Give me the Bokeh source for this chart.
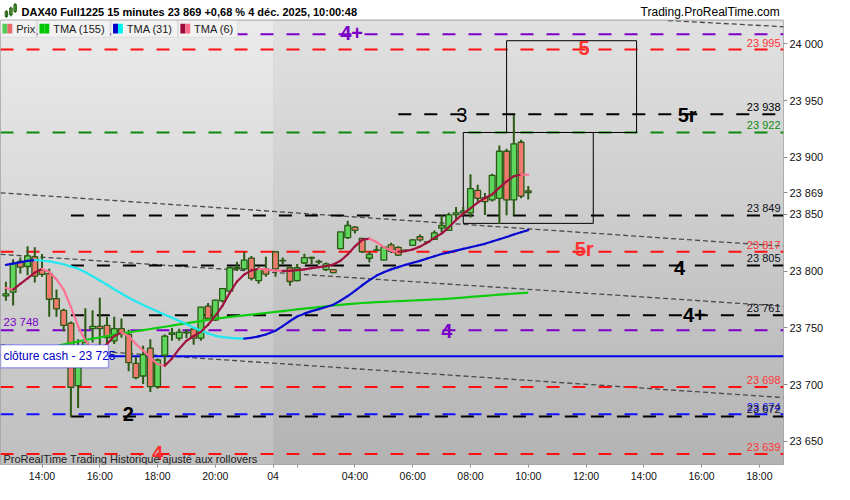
import numpy as np
from bokeh.plotting import figure
from bokeh.layouts import column
from bokeh.models import Range1d, FixedTicker, Label, BoxAnnotation, ColumnDataSource
from bokeh.core.properties import value
from bokeh.embed import file_html
from bokeh.resources import INLINE

FONT = "Liberation Sans"

# ---------------- data: 15-minute bars ----------------
bar_time = ([f"12-03 {12 + (45 + 15 * i) // 60:02d}:{(45 + 15 * i) % 60:02d}" for i in range(37)]
            + [f"12-04 {1 + (15 + 15 * k) // 60:02d}:{(15 + 15 * k) % 60:02d}" for k in range(36)])

bar_open = [23778.1, 23781.4, 23808.5, 23804.0, 23812.5, 23801.0, 23797.8, 23775.8, 23765.4, 23754.1,
            23699.1, 23731.5, 23749.3, 23751.3, 23752.1, 23738.6, 23749.3, 23744.2, 23718.8, 23707.6,
            23732.1, 23698.3, 23725.9, 23744.2, 23740.9, 23745.6, 23749.0, 23740.9, 23769.1, 23756.9,
            23773.8, 23782.3, 23802.9, 23801.8, 23811.4, 23791.6, 23802.0,
            23817.0, 23809.5, 23802.9, 23791.6, 23807.1, 23811.4, 23808.0, 23801.2, 23801.2, 23819.8,
            23829.4, 23838.7, 23828.8, 23811.3, 23818.3, 23809.6, 23823.1, 23820.9, 23818.3, 23822.6,
            23830.2, 23825.4, 23828.0, 23837.8, 23835.8, 23849.7, 23851.3, 23851.3, 23871.1, 23864.6,
            23862.6, 23864.0, 23905.5, 23862.6, 23913.4, 23870.5]
bar_high = [23790.7, 23810.5, 23811.9, 23821.8, 23821.0, 23815.0, 23802.0, 23783.7, 23766.8, 23755.5,
            23740.0, 23767.3, 23765.4, 23776.6, 23759.7, 23759.7, 23758.3, 23748.4, 23724.5, 23734.3,
            23740.0, 23723.1, 23744.2, 23749.9, 23749.3, 23748.5, 23749.0, 23768.2, 23771.9, 23774.7,
            23785.1, 23804.0, 23808.3, 23816.7, 23813.3, 23804.0, 23812.5,
            23817.5, 23812.0, 23804.0, 23806.3, 23815.3, 23812.5, 23810.0, 23807.5, 23801.5, 23834.5,
            23844.4, 23839.6, 23828.8, 23817.0, 23822.6, 23821.8, 23825.0, 23821.8, 23819.0, 23828.0,
            23832.2, 23826.5, 23835.8, 23849.1, 23851.3, 23856.4, 23856.4, 23885.2, 23875.9, 23868.8,
            23885.7, 23910.6, 23907.7, 23937.4, 23915.6, 23875.0]
bar_low = [23773.8, 23769.6, 23797.8, 23796.4, 23790.0, 23795.0, 23759.7, 23759.7, 23747.0, 23671.5,
           23679.4, 23727.0, 23737.2, 23731.5, 23731.5, 23735.8, 23741.4, 23711.8, 23704.7, 23700.5,
           23693.5, 23696.3, 23717.4, 23738.6, 23738.6, 23740.9, 23735.2, 23738.6, 23756.9, 23756.0,
           23772.4, 23780.9, 23800.0, 23801.2, 23791.6, 23788.8, 23795.0,
           23795.0, 23805.7, 23787.1, 23791.0, 23806.3, 23806.3, 23806.0, 23800.0, 23798.0, 23819.0,
           23828.3, 23833.1, 23816.0, 23807.6, 23818.0, 23809.6, 23816.0, 23813.3, 23817.5, 23822.0,
           23826.0, 23825.0, 23828.0, 23833.9, 23835.3, 23845.7, 23849.0, 23847.1, 23861.2, 23849.4,
           23861.2, 23841.5, 23849.1, 23849.1, 23864.0, 23863.0]
bar_close = [23780.0, 23806.8, 23803.4, 23813.3, 23795.5, 23797.0, 23775.2, 23766.8, 23752.1, 23697.7,
             23724.5, 23737.2, 23751.3, 23749.3, 23741.4, 23749.3, 23744.2, 23719.4, 23706.1, 23726.4,
             23698.3, 23721.7, 23742.8, 23745.6, 23746.2, 23746.2, 23740.9, 23768.2, 23758.3, 23774.4,
             23784.6, 23802.9, 23802.0, 23809.7, 23793.6, 23802.0, 23797.3,
             23802.0, 23809.0, 23790.8, 23802.9, 23811.9, 23812.0, 23808.5, 23806.3, 23798.7, 23834.5,
             23840.1, 23835.9, 23817.0, 23814.7, 23818.6, 23821.0, 23817.5, 23814.1, 23818.5, 23827.4,
             23827.4, 23825.6, 23833.6, 23840.1, 23849.4, 23851.3, 23852.7, 23872.5, 23864.0, 23861.2,
             23884.3, 23905.5, 23862.6, 23912.0, 23866.0, 23869.0]

tma155 = [23722.5, 23724.5, 23726.5, 23728.0, 23729.5, 23731.0, 23732.5, 23734.0, 23735.5, 23736.5,
          23738.0, 23739.3, 23740.5, 23741.5, 23742.8, 23744.0, 23745.0, 23746.0, 23747.0, 23748.0,
          23749.0, 23750.0, 23751.0, 23752.0, 23753.0, 23754.0, 23755.0, 23756.0, 23757.0, 23758.0,
          23758.8, 23759.6, 23760.3, 23761.0, 23761.7, 23762.4, 23763.1,
          23764.0, 23764.8, 23765.5, 23766.2, 23766.9, 23767.6, 23768.3, 23769.0, 23769.7, 23770.3,
          23770.9, 23771.4, 23771.9, 23772.3, 23772.6, 23772.9, 23773.2, 23773.5, 23773.8, 23774.1,
          23774.4, 23774.7, 23775.0, 23775.3, 23775.7, 23776.2, 23776.7, 23777.2, 23777.7, 23778.2,
          23778.7, 23779.2, 23779.7, 23780.2, 23780.6, 23781.0]
tma31 = [23805.5, 23806.5, 23807.8, 23809.0, 23809.6, 23809.3, 23808.5, 23807.3, 23806.0, 23804.0,
         23802.0, 23799.0, 23795.5, 23791.7, 23788.0, 23784.0, 23780.3, 23776.5, 23773.2, 23770.2,
         23767.3, 23764.5, 23761.5, 23759.0, 23756.0, 23753.3, 23750.2, 23747.4, 23745.0, 23743.0,
         23741.8, 23741.1, 23740.7, 23740.6, 23741.3, 23742.5, 23744.2,
         23747.5, 23751.5, 23756.0, 23760.0, 23762.5, 23764.7, 23766.5, 23768.4, 23770.3, 23774.0,
         23778.0, 23782.5, 23787.5, 23792.0, 23796.0, 23799.0, 23801.5, 23803.5, 23805.5, 23807.3,
         23809.0, 23811.0, 23813.0, 23815.0, 23816.5, 23818.0, 23819.5, 23821.0, 23822.5, 23824.0,
         23826.0, 23828.0, 23830.0, 23832.2, 23834.2, 23836.0]
tma6 = [23785.1, 23783.7, 23788.8, 23793.6, 23798.6, 23802.0, 23799.2, 23792.7, 23783.7, 23768.2,
        23751.3, 23738.6, 23731.5, 23730.7, 23735.8, 23742.8, 23745.6, 23742.8, 23735.8, 23730.1,
        23723.9, 23718.0, 23716.6, 23723.1, 23731.5, 23738.6, 23742.8, 23746.5, 23752.7, 23760.6,
        23769.6, 23780.9, 23790.8, 23797.0, 23800.6, 23801.8, 23801.5,
        23800.4, 23800.1, 23800.1, 23800.9, 23801.5, 23802.6, 23803.5, 23804.3, 23805.7, 23809.1,
        23814.7, 23821.8, 23827.4, 23828.5, 23825.5, 23821.0, 23818.0, 23817.0, 23817.5, 23819.0,
        23821.5, 23825.0, 23829.3, 23833.0, 23838.5, 23845.0, 23850.5, 23855.3, 23860.3, 23864.3,
        23867.5, 23873.5, 23879.0, 23883.5, 23885.0, 23884.8]

# ---------------- data: levels, drawings ----------------
level_price = [24008.5, 23995, 23938, 23922, 23849, 23817, 23805, 23761, 23748, 23698, 23674, 23672, 23639]
level_color = ["#7b00c8", "#ff1010", "#000000", "#0a8a0a", "#000000", "#ff1010", "#000000",
               "#000000", "#7b00c8", "#ff1010", "#1010ff", "#000000", "#ff1010"]
level_from = ["", "", "12-04 05:30", "", "12-03 15:00", "", "12-03 15:00", "12-03 15:00",
              "", "", "", "12-03 15:00", ""]
level_label = ["", "23 995", "23 938", "23 922", "23 849", "23 817", "23 805", "23 761",
               "", "23 698", "23 674", "23 672", "23 639"]
level_label_color = ["#7b00c8", "#ff3535", "#000000", "#108a10", "#101020", "#ff3535", "#101020",
                     "#101020", "#7b00c8", "#ff3535", "#2020ff", "#101020", "#ff3535"]
left_label = "23 748"
left_label_price = 23748
cloture_price = 23725
cloture_text = "clôture cash -  23 725"

mark_text = ["4+", "5", "3", "5r", "5r", "4", "4+", "4", "2", "4"]
mark_time = ["12-04 03:53", "12-04 11:56", "12-04 07:42", "12-04 15:30", "12-04 11:56",
             "12-04 15:14", "12-04 15:45", "12-04 07:11", "12-03 16:59", "12-03 18:00"]
mark_price = [24009.5, 23996.5, 23937.5, 23937.5, 23819.5, 23802.5, 23761.5, 23747.0, 23674.0, 23640.0]
mark_color = ["#7b00c8", "#ff3030", "#000000", "#000000", "#ff3030", "#000000", "#000000",
              "#7b00c8", "#000000", "#ff3030"]
mark_style = ["bold", "bold", "normal", "bold", "bold", "bold", "bold", "bold", "bold", "bold"]

box_from = ["12-04 07:45", "12-04 09:15"]
box_to = ["12-04 12:15", "12-04 13:45"]
box_top = [23922.0, 24002.8]
box_bottom = [23842.0, 23922.0]

trend_from = ["12-03 12:34", "12-03 12:34", "12-03 12:34", "12-04 14:50"]
trend_p0 = [23868.9, 23814.7, 23735.1, 24020.6]
trend_to = ["12-04 18:50", "12-04 18:50", "12-04 18:50", "12-04 18:50"]
trend_p1 = [23821.9, 23769.0, 23688.6, 24015.1]

tick_time = ["12-03 14:00", "12-03 16:00", "12-03 18:00", "12-03 20:00", "12-03 22:00", "12-04 02:00",
             "12-04 04:00", "12-04 06:00", "12-04 08:00", "12-04 10:00", "12-04 12:00", "12-04 14:00",
             "12-04 16:00", "12-04 18:00"]
tick_label = ["14:00", "16:00", "18:00", "20:00", "04", "", "04:00", "06:00", "08:00", "10:00",
              "12:00", "14:00", "16:00", "18:00"]
axis_price = [23650, 23700, 23750, 23800, 23850, 23869, 23900, 23950, 24000]
axis_label = ["23 650", "23 700", "23 750", "23 800", "23 850", "23 869", "23 900", "23 950", "24 000"]

title_text = "DAX40 Full1225 15 minutes 23 869 +0,68 % 4 déc. 2025, 10:00:48"
site_text = "Trading.ProRealTime.com"
footer_text = "ProRealTime Trading  Historique ajusté aux rollovers"
legend_names = ["Prix", "TMA (155)", "TMA (31)", "TMA (6)"]
legend_swatch = [("#55cc55", "#e86a6a"), ("#00c800", "#00c800"), ("#0000c8", "#00f0f0"), ("#9a0a3a", "#ff6a8a")]


# trading-time axis: the 22:00 -> 01:10 break is removed
def th(stamp):
    d, t = stamp.split()
    hh, mm = t.split(":")
    hrs = int(hh) + int(mm) / 60.0
    if d == "12-03":
        return hrs - 14.0
    return 8.0 + hrs - (1.0 + 10.0 / 60.0)


# ---------------- layout ----------------
W = 834
HH = 20            # header strip
H = 464            # main chart
RB, BB = 51, 18
FW, FH = W - RB, H - BB
X0, X1 = -1.437, 25.669
Y0, Y1 = 23629.7, 24020.6
SX, SY = FW / 798.0, FH / 462.0


def sx(x):
    return x * SX


def sy(y):
    return FH - (y - 20.0) * SY


# ---------------- header strip ----------------
hdr = figure(width=W, height=HH, x_range=Range1d(0, W), y_range=Range1d(0, HH), output_backend="svg",
             toolbar_location=None, x_axis_location=None, y_axis_location=None, min_border=0,
             outline_line_color=None, background_fill_color="white", border_fill_color="white")
hdr.xgrid.visible = False
hdr.ygrid.visible = False
hdr.segment(x0=[0], y0=[0.5], x1=[W], y1=[0.5], line_color="#b4b4b4", line_width=1)
hdr.quad(left=[5, 9.8, 14.3], right=[7.6, 12.4, 16.9], top=[HH - 11, HH - 7.5, HH - 4],
         bottom=[HH - 16, HH - 14.5, HH - 11], fill_color="#5ed65e", line_color="#2b5a14", line_width=1)
hdr.segment(x0=[6.3, 11.1, 15.6], y0=[HH - 9.5, HH - 6, HH - 2.5], x1=[6.3, 11.1, 15.6],
            y1=[HH - 17.5, HH - 16, HH - 12.5], line_color="#2b5a14", line_width=1)
hdr.text(x=[22.5], y=[HH - 11.8], text=[title_text], text_font=value(FONT), text_font_size="11px",
         text_font_style="bold", text_color="#000000", text_baseline="middle")
hdr.text(x=[W - 4], y=[HH - 11.8], text=[site_text], text_font=value(FONT), text_font_size="12px",
         text_color="#000000", text_baseline="middle", text_align="right")

# ---------------- main chart ----------------
p = figure(width=W, height=H, x_range=Range1d(X0, X1), y_range=Range1d(Y0, Y1),
           y_axis_location="right", output_backend="svg", toolbar_location=None,
           min_border_left=0, min_border_top=0, min_border_right=RB, min_border_bottom=BB,
           border_fill_color="white", background_fill_color="#d0d0d0", outline_line_color="#a0a0a0")
p.xgrid.visible = False
p.ygrid.visible = False

# background gradient (two sessions); reference y 20..482
nb = 96
edges = np.linspace(Y1, Y0, nb + 1)
split = th("12-03 22:00")
bl, br, bt, bbm, bc = [], [], [], [], []
for xa_, xb_, g0, g1 in [(X0, split, 235, 191), (split, X1, 225, 179)]:
    for j in range(nb):
        f = (j + 0.5) / nb
        g = int(round(g0 + (g1 - g0) * f))
        bl.append(xa_); br.append(xb_)
        bt.append(edges[j] + 0.3); bbm.append(edges[j + 1] - 0.3)
        bc.append(f"#{g:02x}{g:02x}{g:02x}")
p.quad(left=bl, right=br, top=bt, bottom=bbm, fill_color=bc, line_color=None)

# trend lines
p.segment(x0=[th(t) for t in trend_from], y0=trend_p0, x1=[th(t) for t in trend_to], y1=trend_p1,
          line_color="#4a4a4a", line_width=1.3, line_dash="5 3")

# price levels
lv_x0 = [th(t) if t else X0 for t in level_from]
p.segment(x0=lv_x0, y0=level_price, x1=[X1] * len(level_price), y1=level_price,
          line_color=level_color, line_width=2, line_dash="13 13")
p.segment(x0=[X0], y0=[cloture_price], x1=[X1], y1=[cloture_price], line_color="#0000ee", line_width=2)

# boxes
p.quad(left=[th(t) for t in box_from], right=[th(t) for t in box_to], top=box_top, bottom=box_bottom,
       fill_color=None, line_color="black", line_width=1)

# candles
bar_h = [th(t) for t in bar_time]
OUT = "#2b5a14"
p.segment(x0=bar_h, y0=bar_high, x1=bar_h, y1=bar_low, line_color=OUT, line_width=2)
body_top = [max(o, c) for o, c in zip(bar_open, bar_close)]
body_bot = [min(o, c) for o, c in zip(bar_open, bar_close)]
body_col = ["#5ed65e" if c >= o else "#ef7b70" for o, c in zip(bar_open, bar_close)]
p.vbar(x=bar_h, width=0.2, top=body_top, bottom=body_bot, fill_color=body_col, line_color=OUT, line_width=1.3)


# moving averages
def two_tone(vals, up, down, width):
    cols = [up if b >= a else down for a, b in zip(vals[:-1], vals[1:])]
    src = ColumnDataSource(dict(x0=bar_h[:-1], x1=bar_h[1:], y0=vals[:-1], y1=vals[1:], c=cols))
    p.segment(x0="x0", y0="y0", x1="x1", y1="y1", line_color="c", line_width=width, line_cap="round", source=src)


p.line(bar_h, tma155, line_color="#10cc10", line_width=2.2)
two_tone(tma31, "#0a0ad2", "#22e8f0", 2.2)
two_tone(tma6, "#a0123e", "#ff7092", 2.2)

# level labels
rl_idx = [i for i, t in enumerate(level_label) if t]
p.text(x=[X1] * len(rl_idx), y=[level_price[i] for i in rl_idx], text=[level_label[i] for i in rl_idx],
       text_color=[level_label_color[i] for i in rl_idx], text_align="right", text_baseline="bottom",
       x_offset=-3, y_offset=-1, text_font=value(FONT), text_font_size="11px")
p.text(x=[X0], y=[left_label_price], text=[left_label], text_color="#7b00c8", text_align="left",
       text_baseline="bottom", x_offset=3, y_offset=-2, text_font=value(FONT), text_font_size="11.5px")
p.text(x=[th(t) for t in mark_time], y=mark_price, text=mark_text, text_color=mark_color,
       text_font_style=mark_style, text_align="center", text_baseline="middle",
       text_font=value(FONT), text_font_size="20px")

# cloture cash box
half = 11.6 / (FH / (Y1 - Y0))
p.add_layout(BoxAnnotation(left=0, right=sx(110), left_units="screen", right_units="screen",
                           top=cloture_price + half, bottom=cloture_price - half,
                           fill_color="white", fill_alpha=1, line_color="#0000ff", line_width=1.5))
p.add_layout(Label(x=sx(3), x_units="screen", y=cloture_price, text=cloture_text, text_baseline="middle",
                   text_font=FONT, text_font_size="12px", text_color="#0000c8"))

# legend row
cells = [(0, 36.7), (37.7, 111.7), (112.7, 180.3), (181.3, 241.7)]
for (a, b), name, (c1, c2) in zip(cells, legend_names, legend_swatch):
    p.add_layout(BoxAnnotation(left=sx(a), right=sx(b), top=sy(21.7), bottom=sy(39.3), left_units="screen",
                               right_units="screen", top_units="screen", bottom_units="screen",
                               fill_color="#f2f2f2", fill_alpha=1, line_color="#b8b8b8", line_width=1))
    for (l, r, c) in [(a + 2, a + 7, c1), (a + 7, a + 12, c2)]:
        p.add_layout(BoxAnnotation(left=sx(l), right=sx(r), top=sy(25.5), bottom=sy(35.5), left_units="screen",
                                   right_units="screen", top_units="screen", bottom_units="screen",
                                   fill_color=c, fill_alpha=1, line_color=None))
    p.add_layout(Label(x=sx(a + 16), y=sy(30.5), x_units="screen", y_units="screen", text=name,
                       text_font=FONT, text_font_size="11px", text_color="#202020", text_baseline="middle"))

# footer
p.add_layout(Label(x=sx(3), y=sy(476), x_units="screen", y_units="screen", text=footer_text,
                   text_font=FONT, text_font_size="11px", text_color="#202020", text_baseline="middle"))

# axes
xt = [round(th(t), 6) for t in tick_time]
xax = p.xaxis[0]
xax.ticker = FixedTicker(ticks=xt)
xax.major_label_overrides = {v: s for v, s in zip(xt, tick_label)}
xax.axis_line_color = None
xax.major_tick_in = 0
xax.major_tick_out = 3
xax.major_tick_line_color = "#909090"
xax.minor_tick_line_color = None
xax.major_label_standoff = 2
xax.major_label_text_font = FONT
xax.major_label_text_font_size = "10.5px"
xax.major_label_text_color = "#111111"

yax = p.yaxis[0]
yax.ticker = FixedTicker(ticks=axis_price)
yax.major_label_overrides = {v: s for v, s in zip(axis_price, axis_label)}
yax.axis_line_color = None
yax.major_tick_in = 0
yax.major_tick_out = 4
yax.major_tick_line_color = "#909090"
yax.minor_tick_line_color = None
yax.major_label_standoff = 2
yax.major_label_text_font = FONT
yax.major_label_text_font_size = "11px"
yax.major_label_text_color = "#111111"

open("out.html", "w").write(file_html(column(hdr, p, spacing=0), INLINE))
